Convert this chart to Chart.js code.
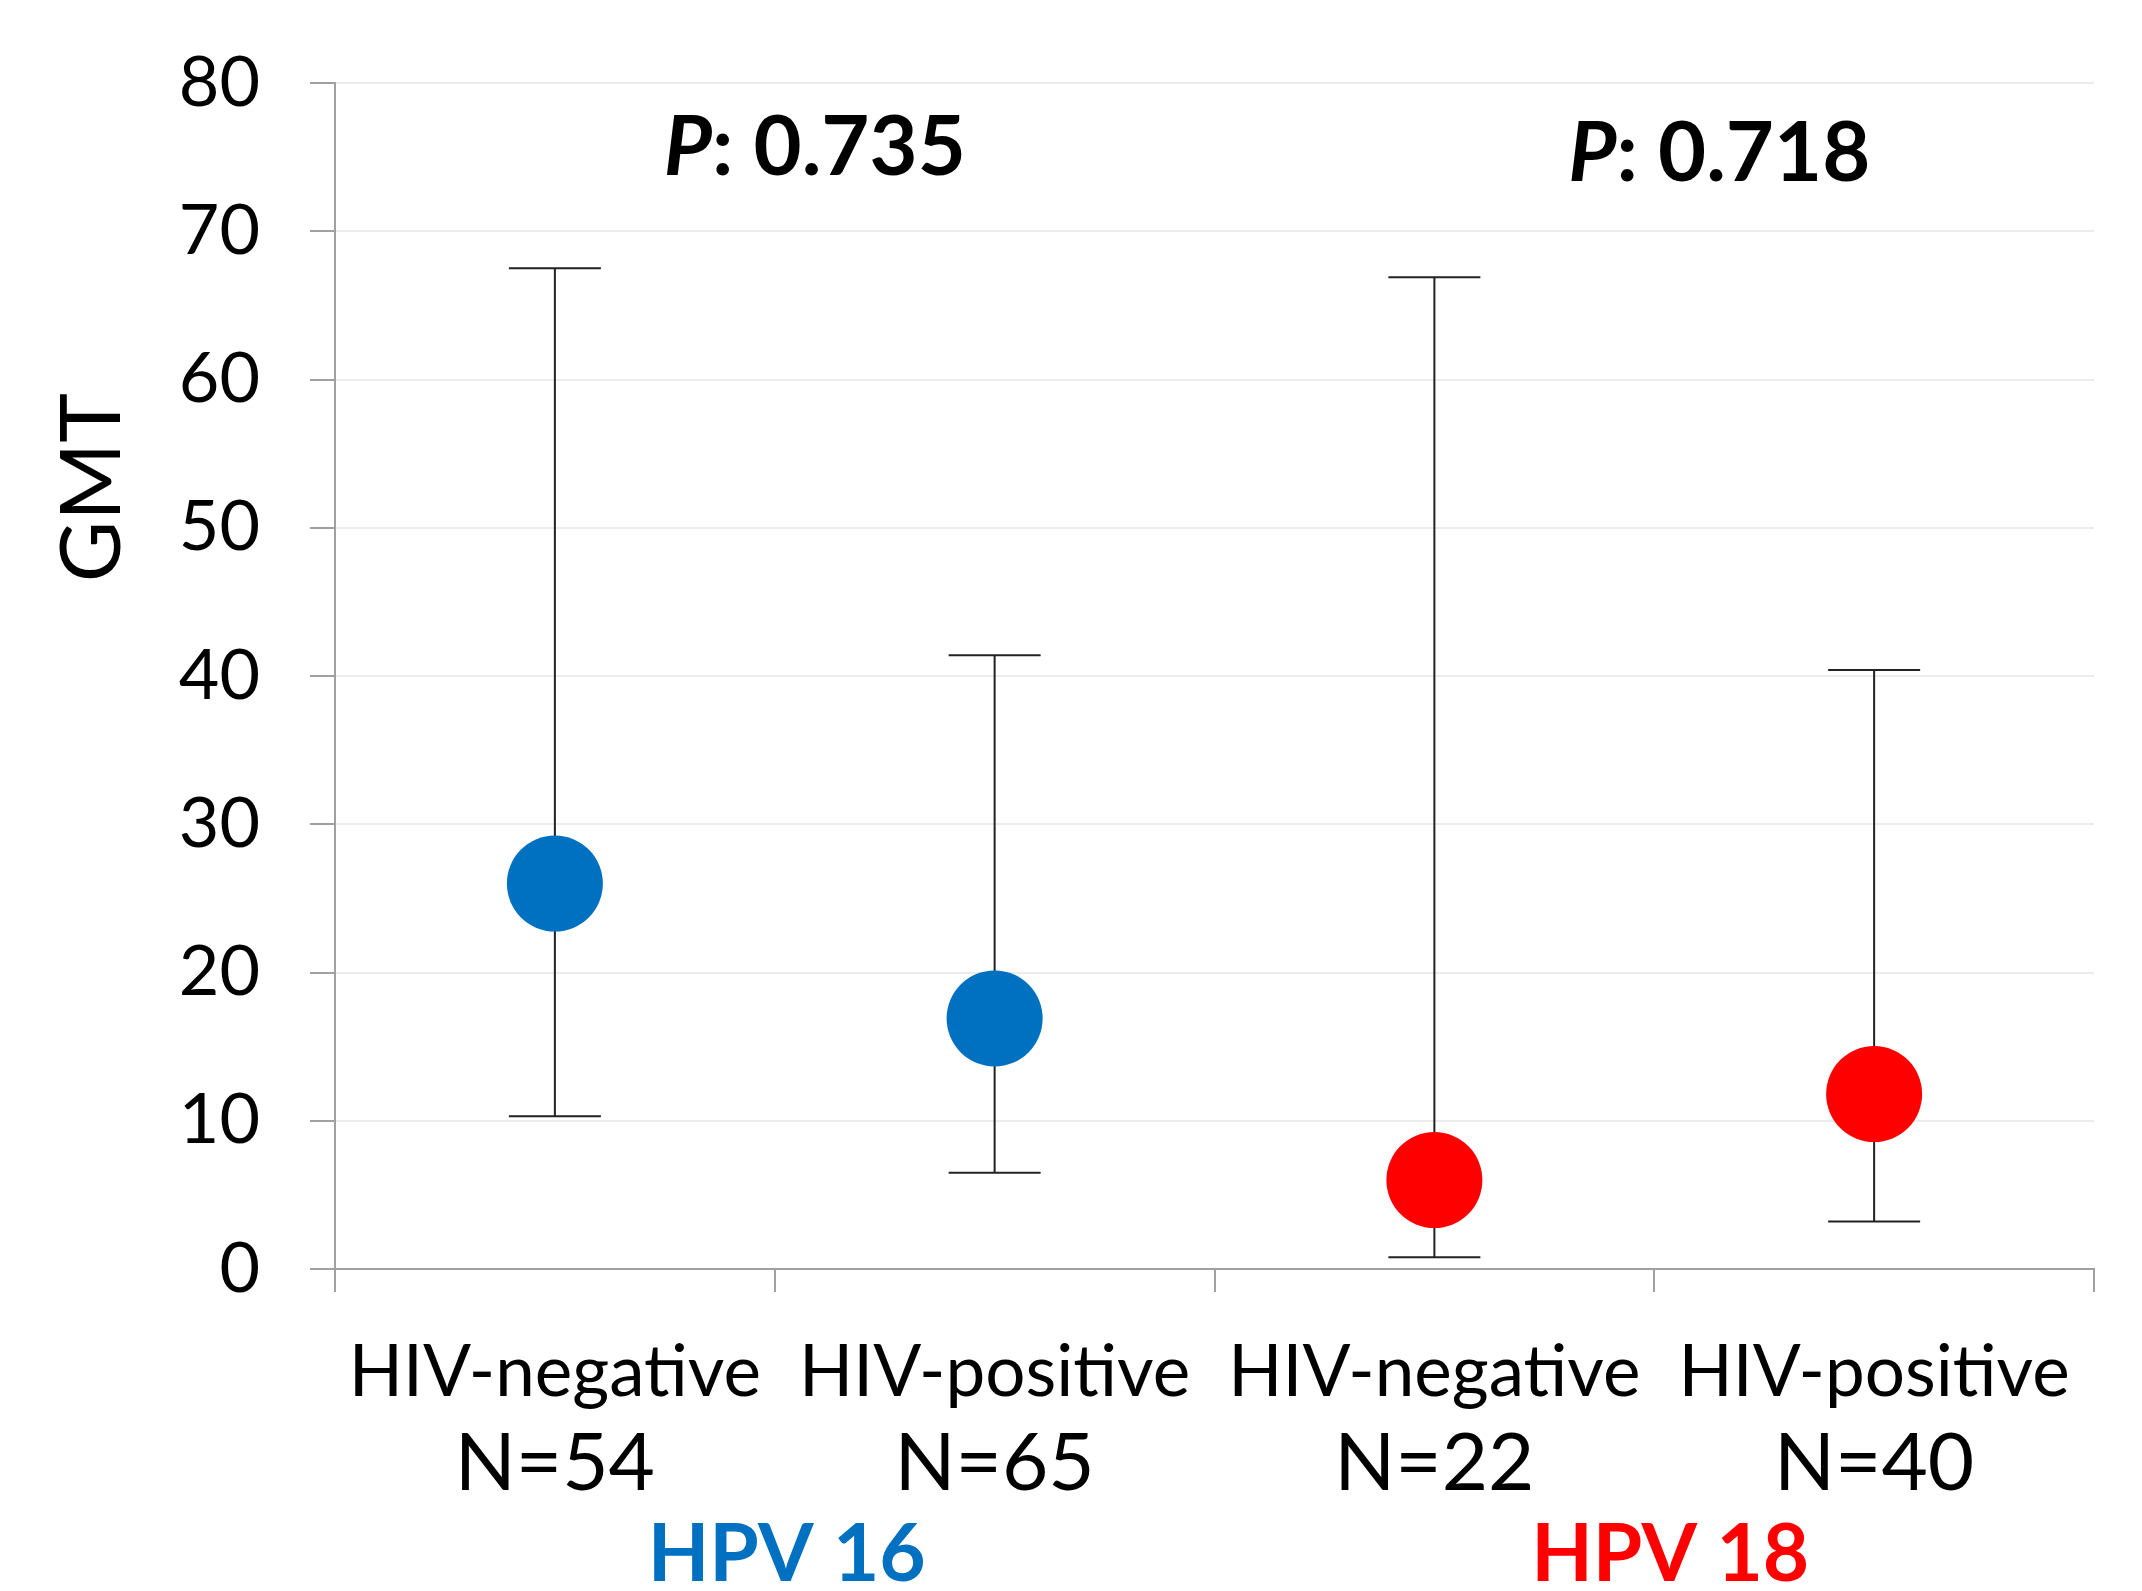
<!DOCTYPE html>
<html>
<head>
<meta charset="utf-8">
<script src="https://cdn.jsdelivr.net/npm/chart.js@4/dist/chart.umd.min.js"></script>
<style>
  html, body { margin: 0; padding: 0; background: #fff; }
  #wrap { width: 2142px; height: 1591px; }
</style>
</head>
<body>
<div id="wrap"><canvas id="chartGmt"></canvas></div>
<script>
var categories = ['HIV-negative', 'HIV-positive', 'HIV-negative', 'HIV-positive'];
var sampleSizes = ['N=54', 'N=65', 'N=22', 'N=40'];
var gmtValues = [26.0, 16.9, 6.0, 11.8];
var ciLower = [10.3, 6.5, 0.8, 3.2];
var ciUpper = [67.5, 41.4, 66.9, 40.4];
var groupNames = ['HPV 16', 'HPV 18'];
var groupOf = [0, 0, 1, 1];
var groupColors = ['#0070C0', '#FF0000'];
var pValues = ['0.735', '0.718'];
var yTicks = [0, 10, 20, 30, 40, 50, 60, 70, 80];

var FONT = 'Lato, "Open Sans", sans-serif';

function seriesFor(g) {
  return gmtValues.map(function (v, i) { return groupOf[i] === g ? v : null; });
}

var errorBars = {
  id: 'errorBars',
  beforeDatasetsDraw: function (chart) {
    var ctx = chart.ctx, x = chart.scales.x, y = chart.scales.y;
    ctx.save();
    ctx.strokeStyle = '#222';
    ctx.lineWidth = 2;
    for (var i = 0; i < gmtValues.length; i++) {
      var px = x.getPixelForValue(i);
      var top = y.getPixelForValue(ciUpper[i]);
      var bot = y.getPixelForValue(ciLower[i]);
      ctx.beginPath();
      ctx.moveTo(px, top); ctx.lineTo(px, bot);
      ctx.moveTo(px - 46, top); ctx.lineTo(px + 46, top);
      ctx.moveTo(px - 46, bot); ctx.lineTo(px + 46, bot);
      ctx.stroke();
    }
    ctx.restore();
  }
};

var labelsPlugin = {
  id: 'labelsPlugin',
  afterDraw: function (chart) {
    var ctx = chart.ctx, x = chart.scales.x, y = chart.scales.y;
    var base = chart.chartArea.bottom;
    ctx.save();
    ctx.textAlign = 'center';
    ctx.textBaseline = 'middle';
    ctx.fillStyle = '#000';

    // axis title, sits a little above the middle of the axis
    ctx.save();
    ctx.translate(93, y.getPixelForValue(52.7));
    ctx.rotate(-Math.PI / 2);
    ctx.font = '84px ' + FONT;
    ctx.fillText('GMT', 0, 0);
    ctx.restore();

    for (var i = 0; i < categories.length; i++) {
      var px = x.getPixelForValue(i);
      ctx.font = '71px ' + FONT;
      ctx.fillText(categories[i], px, base + 104);
      ctx.font = '80px ' + FONT;
      ctx.fillText(sampleSizes[i], px, base + 195);
    }
    for (var g = 0; g < groupNames.length; g++) {
      var gx = x.getPixelForValue(g * 2 + 0.5) + (g === 0 ? 12 : 16);
      ctx.font = 'bold 80px ' + FONT;
      ctx.fillStyle = groupColors[g];
      ctx.fillText(groupNames[g], gx, base + 286);

      // p-value annotation
      var tx = x.getPixelForValue(g * 2 + 0.5) + (g === 0 ? -111 : -86);
      var ty = y.getPixelForValue(g === 0 ? 75.6 : 75.2);
      ctx.fillStyle = '#000';
      ctx.textAlign = 'left';
      ctx.font = 'italic bold 83px ' + FONT;
      ctx.fillText('P', tx, ty);
      var w = ctx.measureText('P').width;
      ctx.font = 'bold 83px ' + FONT;
      ctx.fillText(': ' + pValues[g], tx + w, ty);
      ctx.textAlign = 'center';
    }
    ctx.restore();
  }
};

new Chart(document.getElementById('chartGmt'), {
  type: 'line',
  data: {
    labels: categories,
    datasets: groupNames.map(function (name, g) {
      return {
        label: name,
        data: seriesFor(g),
        showLine: false,
        pointRadius: 48,
        pointHoverRadius: 48,
        pointBackgroundColor: groupColors[g],
        pointBorderColor: groupColors[g],
        pointBorderWidth: 0
      };
    })
  },
  options: {
    responsive: true,
    maintainAspectRatio: false,
    animation: false,
    events: [],
    layout: { padding: { top: 83, right: 40, bottom: 0, left: 40 } },
    plugins: {
      legend: { display: false },
      tooltip: { enabled: false }
    },
    scales: {
      x: {
        type: 'category',
        offset: true,
        grid: {
          offset: true,
          drawOnChartArea: false,
          drawTicks: true,
          tickLength: 23,
          tickColor: '#a0a0a0',
          lineWidth: 2
        },
        border: { color: '#a0a0a0', width: 2 },
        ticks: { display: false },
        afterFit: function (scale) { scale.height = 1591 - 1269; }
      },
      y: {
        min: 0,
        max: 80,
        afterBuildTicks: function (scale) {
          scale.ticks = yTicks.map(function (v) { return { value: v }; });
        },
        grid: {
          color: '#ececec',
          lineWidth: 2,
          tickLength: 25,
          tickColor: '#a0a0a0'
        },
        border: { color: '#a0a0a0', width: 2 },
        ticks: {
          color: '#000',
          padding: 50,
          font: { family: FONT, size: 70 }
        },
        afterFit: function (scale) {
          scale.width = 335 - 40;
          // the large tick padding should not push the plot area down
          scale.paddingTop = 40;
          scale.paddingBottom = 40;
        }
      }
    }
  },
  plugins: [errorBars, labelsPlugin]
});
</script>
</body>
</html>
